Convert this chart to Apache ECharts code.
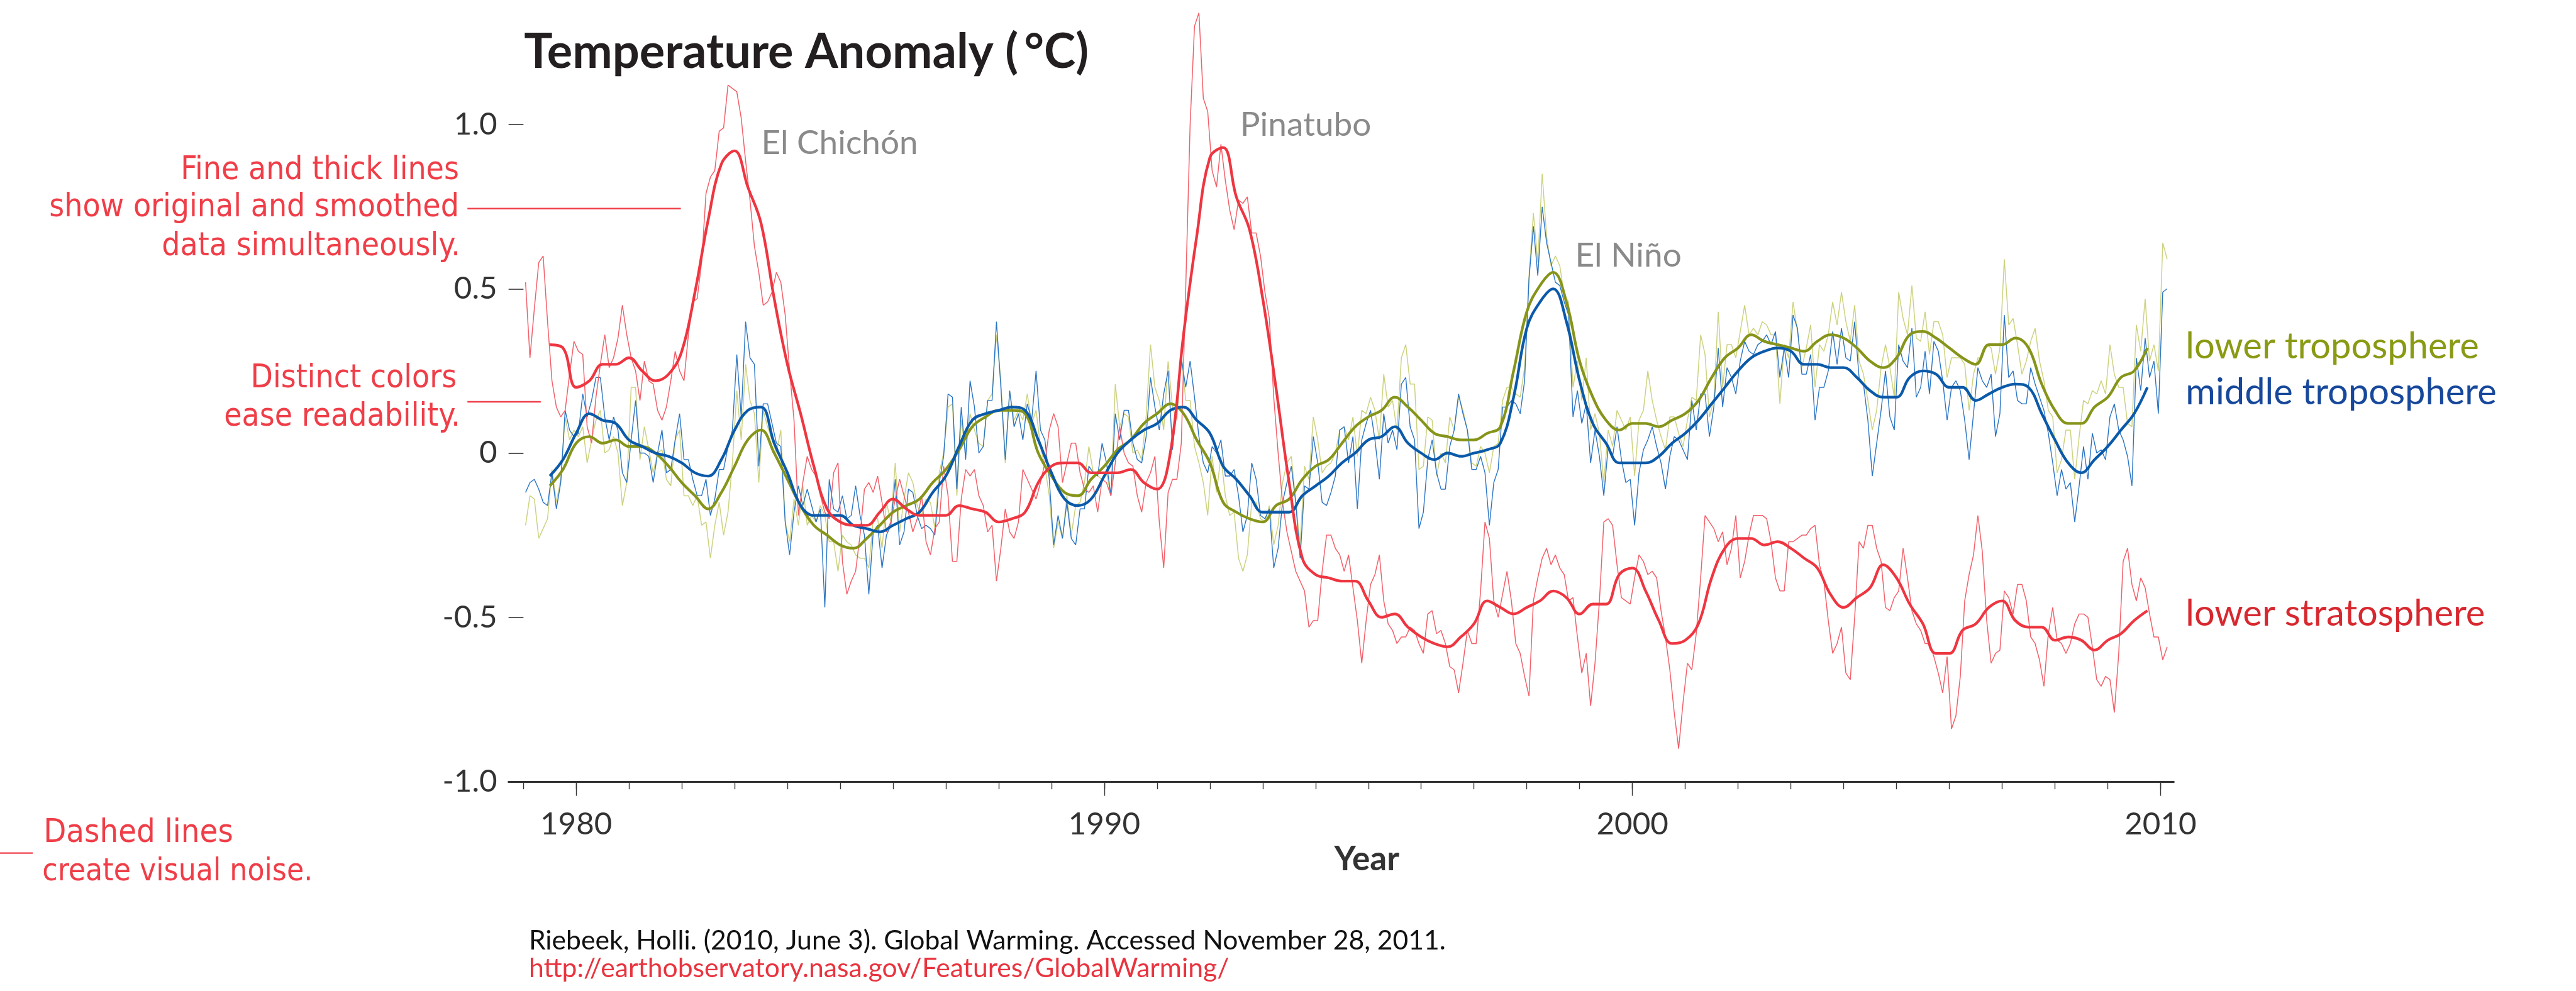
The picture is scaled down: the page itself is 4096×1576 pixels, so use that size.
<!DOCTYPE html>
<html>
<head>
<meta charset="utf-8">
<title>Temperature Anomaly</title>
<script src="https://cdn.jsdelivr.net/npm/echarts@6.0.0/dist/echarts.min.js"></script>
<style>
  html, body { margin: 0; padding: 0; background: #fff; }
  #chart { width: 4096px; height: 1576px; }
</style>
</head>
<body>
<div id="chart"></div>
<script>
// monthly anomalies, Jan 1979 .. Feb 2010 (fine lines)
var fineStartYear = 1979;

var lowerStratosphere = [
  0.52, 0.29, 0.44, 0.58, 0.60, 0.40, 0.22, 0.14, 0.11, 0.13, 0.24, 0.34,   // 1979
  0.31, 0.30, 0.08, 0.03, 0.17, 0.27, 0.36, 0.26, 0.29, 0.35, 0.45, 0.36,   // 1980
  0.29, 0.25, 0.16, 0.28, 0.22, 0.21, 0.13, 0.10, 0.14, 0.22, 0.31, 0.25,   // 1981
  0.22, 0.36, 0.46, 0.47, 0.58, 0.79, 0.84, 0.86, 0.98, 0.99, 1.12, 1.11,   // 1982
  1.10, 1.02, 0.89, 0.77, 0.63, 0.55, 0.45, 0.46, 0.49, 0.55, 0.52, 0.42,   // 1983
  0.25, 0.10, -0.19, -0.09, -0.01, -0.05, -0.07, -0.13, -0.18, -0.20, -0.06, -0.03,
  -0.33, -0.43, -0.39, -0.36, -0.25, -0.11, -0.09, -0.12, -0.07, -0.15, -0.24, -0.21,
  -0.14, -0.08, -0.13, -0.18, -0.24, -0.20, -0.13, -0.27, -0.31, -0.23, -0.21, -0.04,
  -0.13, -0.33, -0.33, -0.14, -0.05, -0.07, -0.05, -0.13, -0.16, -0.24, -0.22, -0.39,
  -0.29, -0.17, -0.24, -0.26, -0.21, -0.05, -0.08, -0.11, -0.14, -0.09, -0.03, 0.07,
  0.12, 0.08, -0.09, -0.03, 0.03, 0.03, -0.06, -0.11, -0.12, -0.10, -0.18, -0.08,
  -0.09, -0.13, -0.03, 0.08, 0.00, -0.03, -0.04, -0.13, -0.18, -0.09, -0.06, -0.01,
  -0.21, -0.35, -0.12, -0.08, -0.08, 0.03, 0.50, 1.00, 1.30, 1.34, 1.08, 1.04,  // 1991
  0.86, 0.81, 0.94, 0.83, 0.74, 0.68, 0.77, 0.76, 0.78, 0.67, 0.67, 0.60,
  0.49, 0.41, 0.17, 0.00, -0.15, -0.24, -0.30, -0.36, -0.39, -0.42, -0.53, -0.51,
  -0.51, -0.36, -0.25, -0.25, -0.29, -0.31, -0.36, -0.31, -0.41, -0.51, -0.64, -0.51,
  -0.40, -0.37, -0.31, -0.45, -0.52, -0.54, -0.58, -0.56, -0.56, -0.53, -0.54, -0.58,
  -0.61, -0.49, -0.48, -0.55, -0.54, -0.58, -0.65, -0.66, -0.73, -0.64, -0.54, -0.58,
  -0.58, -0.42, -0.21, -0.26, -0.45, -0.50, -0.43, -0.36, -0.45, -0.58, -0.61, -0.68,
  -0.74, -0.45, -0.38, -0.32, -0.29, -0.34, -0.31, -0.35, -0.37, -0.45, -0.44, -0.56,
  -0.67, -0.61, -0.77, -0.64, -0.45, -0.21, -0.20, -0.22, -0.34, -0.44, -0.45, -0.46,
  -0.38, -0.31, -0.33, -0.37, -0.36, -0.38, -0.48, -0.56, -0.66, -0.79, -0.90, -0.76,
  -0.64, -0.66, -0.55, -0.38, -0.19, -0.21, -0.23, -0.27, -0.24, -0.34, -0.29, -0.19,
  -0.38, -0.33, -0.25, -0.19, -0.19, -0.19, -0.20, -0.27, -0.38, -0.42, -0.42, -0.27,
  -0.27, -0.26, -0.25, -0.25, -0.23, -0.22, -0.34, -0.39, -0.51, -0.61, -0.58, -0.53,
  -0.67, -0.69, -0.50, -0.27, -0.29, -0.22, -0.22, -0.29, -0.33, -0.47, -0.48, -0.44,
  -0.42, -0.29, -0.38, -0.48, -0.52, -0.54, -0.58, -0.58, -0.62, -0.67, -0.73, -0.62,
  -0.84, -0.80, -0.68, -0.45, -0.37, -0.31, -0.19, -0.30, -0.51, -0.64, -0.61, -0.60,
  -0.42, -0.44, -0.49, -0.40, -0.40, -0.45, -0.56, -0.58, -0.63, -0.71, -0.55, -0.47,
  -0.57, -0.58, -0.61, -0.58, -0.52, -0.49, -0.49, -0.50, -0.59, -0.69, -0.71, -0.68,
  -0.69, -0.79, -0.61, -0.33, -0.29, -0.40, -0.45, -0.38, -0.41, -0.49, -0.56, -0.56,
  -0.63, -0.59                                                                // 2010
];

var middleTroposphere = [
  -0.12, -0.09, -0.08, -0.11, -0.15, -0.16, -0.06, -0.17, -0.09, 0.13, 0.07, 0.05,
  0.06, 0.18, 0.11, 0.16, 0.23, 0.23, 0.11, 0.04, 0.11, 0.07, -0.06, -0.09,
  0.04, 0.16, 0.00, 0.00, -0.01, -0.09, 0.00, 0.07, -0.06, -0.05, 0.04, 0.12,
  -0.02, -0.02, -0.08, -0.13, -0.13, -0.08, -0.19, -0.14, -0.05, -0.05, 0.02, 0.07,
  0.30, 0.11, 0.40, 0.29, 0.27, -0.04, 0.15, 0.15, 0.09, 0.03, 0.02, -0.21,
  -0.31, -0.18, -0.10, -0.16, -0.11, -0.16, -0.21, -0.17, -0.47, -0.08, -0.17, -0.18,
  -0.13, -0.20, -0.19, -0.10, -0.19, -0.25, -0.43, -0.24, -0.22, -0.35, -0.25, -0.22,
  -0.08, -0.28, -0.24, -0.11, -0.12, -0.19, -0.23, -0.22, -0.23, -0.25, -0.09, -0.01,
  0.18, 0.17, -0.11, 0.14, -0.02, 0.22, 0.14, 0.00, 0.02, 0.16, 0.16, 0.40,
  0.20, -0.02, 0.19, 0.08, 0.12, 0.04, 0.15, 0.10, 0.25, 0.07, 0.04, -0.08,
  -0.28, -0.19, -0.26, -0.15, -0.26, -0.28, -0.17, -0.17, -0.04, -0.06, -0.07, 0.03,
  -0.03, -0.13, 0.12, 0.04, 0.13, 0.13, 0.03, -0.02, -0.03, 0.05, 0.23, 0.14,
  0.07, 0.18, 0.25, 0.01, 0.16, 0.29, 0.20, 0.28, 0.17, 0.05, -0.03, -0.06,
  0.02, 0.00, 0.04, -0.07, -0.07, -0.05, -0.13, -0.24, -0.19, -0.03, -0.08, -0.19,
  -0.20, -0.17, -0.35, -0.29, -0.15, -0.09, -0.04, -0.15, -0.32, -0.10, -0.11, 0.05,
  -0.03, -0.15, -0.16, -0.12, -0.07, 0.07, 0.08, -0.03, 0.05, -0.17, 0.04, 0.09,
  0.13, 0.04, -0.08, 0.12, 0.03, 0.07, 0.01, 0.21, 0.23, 0.08, 0.04, -0.23,
  -0.18, -0.02, 0.04, -0.06, -0.11, -0.11, 0.02, 0.07, 0.18, 0.12, 0.07, -0.05,
  -0.05, -0.01, -0.06, -0.22, -0.09, -0.05, 0.14, 0.14, 0.16, 0.15, 0.12, 0.22,
  0.53, 0.69, 0.54, 0.75, 0.64, 0.58, 0.52, 0.51, 0.46, 0.42, 0.11, 0.19,
  0.09, 0.15, -0.03, 0.07, -0.01, -0.13, 0.02, -0.01, 0.08, -0.02, -0.09, -0.08,
  -0.22, -0.06, 0.01, 0.04, 0.08, 0.02, -0.03, -0.11, -0.01, 0.05, 0.04, 0.01,
  -0.02, 0.16, 0.07, 0.18, 0.18, 0.05, 0.14, 0.32, 0.14, 0.26, 0.23, 0.18,
  0.28, 0.34, 0.31, 0.30, 0.33, 0.34, 0.36, 0.33, 0.37, 0.23, 0.32, 0.23,
  0.42, 0.38, 0.24, 0.24, 0.30, 0.10, 0.20, 0.20, 0.25, 0.37, 0.27, 0.38,
  0.29, 0.28, 0.40, 0.23, 0.21, 0.10, -0.07, 0.03, 0.13, 0.25, 0.11, 0.07,
  0.33, 0.28, 0.26, 0.38, 0.17, 0.20, 0.31, 0.18, 0.34, 0.31, 0.22, 0.10,
  0.20, 0.22, 0.19, 0.10, -0.02, 0.12, 0.26, 0.22, 0.20, 0.24, 0.05, 0.12,
  0.42, 0.23, 0.25, 0.16, 0.15, 0.15, 0.26, 0.21, 0.17, 0.13, 0.06, -0.03,
  -0.13, -0.05, -0.11, -0.09, -0.21, -0.10, 0.02, -0.08, 0.06, 0.00, 0.01, -0.02,
  0.11, 0.15, 0.07, 0.04, -0.01, -0.10, 0.29, 0.19, 0.35, 0.23, 0.28, 0.12,
  0.49, 0.50
];

var lowerTroposphere = [
  -0.22, -0.13, -0.14, -0.26, -0.23, -0.20, -0.05, -0.15, -0.08, 0.11, 0.04, 0.07,
  0.05, 0.08, -0.03, 0.04, 0.10, 0.13, 0.00, 0.01, 0.05, 0.00, -0.16, -0.09,
  0.20, 0.20, -0.02, 0.08, 0.01, -0.06, 0.00, 0.01, -0.08, -0.10, 0.04, 0.07,
  -0.13, -0.13, -0.16, -0.13, -0.22, -0.21, -0.32, -0.22, -0.15, -0.25, -0.18, -0.03,
  0.19, 0.04, 0.27, 0.16, 0.12, -0.09, 0.13, 0.08, 0.04, 0.00, 0.07, -0.21,
  -0.27, -0.14, -0.22, -0.10, -0.22, -0.19, -0.21, -0.16, -0.19, -0.27, -0.27, -0.36,
  -0.25, -0.27, -0.28, -0.31, -0.32, -0.32, -0.35, -0.20, -0.20, -0.29, -0.15, -0.21,
  -0.03, -0.24, -0.14, -0.06, -0.09, -0.16, -0.19, -0.14, -0.15, -0.23, -0.06, 0.00,
  0.14, 0.15, -0.13, 0.10, 0.00, 0.12, 0.07, 0.03, 0.02, 0.16, 0.18, 0.36,
  0.22, -0.03, 0.19, 0.10, 0.13, 0.10, 0.18, 0.09, 0.13, 0.02, -0.04, -0.13,
  -0.29, -0.21, -0.26, -0.13, -0.25, -0.16, -0.15, -0.09, 0.02, -0.06, -0.07, -0.08,
  -0.06, -0.13, 0.21, 0.08, 0.12, 0.11, 0.00, 0.01, -0.02, 0.11, 0.33, 0.20,
  0.16, 0.07, 0.28, 0.14, 0.10, 0.30, 0.16, 0.16, 0.02, -0.03, -0.09, -0.19,
  -0.01, -0.12, -0.01, -0.13, -0.19, -0.18, -0.32, -0.36, -0.31, -0.15, -0.15, -0.20,
  -0.21, -0.16, -0.28, -0.22, -0.09, -0.03, -0.01, -0.15, -0.28, -0.04, -0.08, 0.11,
  0.04, -0.06, -0.04, -0.03, 0.00, 0.07, 0.08, 0.04, 0.11, -0.01, 0.13, 0.12,
  0.17, 0.13, 0.04, 0.24, 0.14, 0.16, 0.07, 0.29, 0.33, 0.21, 0.21, -0.05,
  -0.04, 0.11, 0.10, -0.07, 0.00, -0.03, 0.11, 0.07, 0.17, 0.13, 0.07, -0.03,
  -0.04, 0.02, 0.00, -0.06, 0.02, 0.03, 0.16, 0.20, 0.20, 0.18, 0.17, 0.26,
  0.54, 0.73, 0.58, 0.85, 0.66, 0.57, 0.60, 0.57, 0.48, 0.46, 0.20, 0.28,
  0.16, 0.29, 0.07, 0.12, 0.06, -0.09, 0.07, 0.02, 0.13, 0.10, 0.07, 0.11,
  -0.07, 0.10, 0.13, 0.25, 0.16, 0.10, 0.05, 0.01, 0.11, 0.11, 0.06, 0.02,
  0.10, 0.17, 0.16, 0.36, 0.30, 0.11, 0.16, 0.43, 0.20, 0.33, 0.33, 0.29,
  0.37, 0.45, 0.36, 0.38, 0.36, 0.40, 0.39, 0.36, 0.36, 0.15, 0.33, 0.29,
  0.46, 0.37, 0.26, 0.32, 0.39, 0.20, 0.33, 0.31, 0.36, 0.46, 0.39, 0.49,
  0.40, 0.34, 0.45, 0.28, 0.24, 0.16, 0.07, 0.13, 0.26, 0.33, 0.26, 0.17,
  0.49, 0.41, 0.36, 0.51, 0.35, 0.34, 0.43, 0.30, 0.40, 0.40, 0.36, 0.23,
  0.29, 0.29, 0.29, 0.27, 0.13, 0.24, 0.29, 0.29, 0.33, 0.32, 0.24, 0.32,
  0.59, 0.39, 0.41, 0.33, 0.24, 0.28, 0.34, 0.38, 0.28, 0.22, 0.13, 0.11,
  -0.06, -0.02, 0.07, 0.07, -0.08, 0.05, 0.16, 0.15, 0.19, 0.18, 0.22, 0.18,
  0.33, 0.24, 0.20, 0.20, 0.09, 0.08, 0.39, 0.31, 0.47, 0.28, 0.33, 0.25,
  0.64, 0.59
];

// smoothed (thick) lines, quarterly from mid 1979
var smoothStartYear = 1979.5;
var smoothStep = 0.25;

var lowerStratosphereSmooth = [
  0.33, 0.32,
  0.20, 0.22, 0.27, 0.27,   0.29, 0.25, 0.22, 0.24,   0.31, 0.49, 0.71, 0.88,
  0.92, 0.81, 0.70, 0.47,   0.27, 0.12, -0.04, -0.17, -0.21, -0.22, -0.22, -0.18,
  -0.14, -0.17, -0.19, -0.19, -0.19, -0.16, -0.17, -0.18, -0.21, -0.20, -0.18, -0.09,
  -0.04, -0.03, -0.03, -0.06, -0.06, -0.06, -0.05, -0.09, -0.11, 0.00, 0.36, 0.66,
  0.90, 0.93, 0.78, 0.68,   0.47, 0.20, -0.09, -0.32, -0.37, -0.38, -0.39, -0.39,
  -0.45, -0.50, -0.49, -0.53, -0.56, -0.58, -0.59, -0.56, -0.52, -0.45, -0.47, -0.49,
  -0.47, -0.45, -0.42, -0.44, -0.49, -0.46, -0.46, -0.37, -0.35, -0.42, -0.51, -0.58,
  -0.57, -0.52, -0.38, -0.29, -0.26, -0.26, -0.28, -0.27, -0.29, -0.32, -0.35, -0.43,
  -0.47, -0.44, -0.41, -0.34, -0.38, -0.46, -0.52, -0.61, -0.61, -0.54, -0.52, -0.47,
  -0.45, -0.51, -0.53, -0.53, -0.57, -0.56, -0.57, -0.60, -0.57, -0.55, -0.51, -0.48
];

var middleTroposphereSmooth = [
  -0.07, -0.02,
  0.06, 0.12, 0.10, 0.09,   0.04, 0.02, 0.00, -0.01,   -0.03, -0.06, -0.07, -0.02,
  0.07, 0.13, 0.14, 0.03,   -0.06, -0.16, -0.19, -0.19, -0.19, -0.22, -0.23, -0.24,
  -0.22, -0.20, -0.18, -0.12, -0.07, 0.02, 0.10, 0.12,   0.13, 0.14, 0.13, 0.04,
  -0.06, -0.14, -0.16, -0.14, -0.07, 0.00, 0.04, 0.07,   0.09, 0.13, 0.14, 0.10,
  0.06, -0.04, -0.08, -0.13, -0.18, -0.18, -0.18, -0.13, -0.10, -0.07, -0.03, 0.00,
  0.04, 0.05, 0.08, 0.03,   0.00, -0.02, 0.00, -0.01,   0.00, 0.01, 0.03, 0.17,
  0.38, 0.46, 0.50, 0.40,   0.22, 0.09, 0.03, -0.03,   -0.03, -0.03, -0.01, 0.03,
  0.06, 0.10, 0.15, 0.20,   0.25, 0.29, 0.31, 0.32,   0.31, 0.27, 0.27, 0.26,
  0.26, 0.23, 0.19, 0.17,   0.17, 0.23, 0.25, 0.24,   0.20, 0.20, 0.16, 0.18,
  0.20, 0.21, 0.20, 0.12,   0.04, -0.03, -0.06, -0.02, 0.02, 0.07, 0.12, 0.20
];

var lowerTroposphereSmooth = [
  -0.10, -0.05,
  0.03, 0.05, 0.03, 0.04,   0.02, 0.02, 0.00, -0.04,   -0.09, -0.13, -0.17, -0.12,
  -0.04, 0.04, 0.07, 0.00,  -0.08, -0.16, -0.22, -0.25, -0.28, -0.29, -0.26, -0.22,
  -0.18, -0.16, -0.14, -0.09, -0.05, 0.01, 0.08, 0.11,  0.13, 0.13, 0.12, 0.00,
  -0.07, -0.12, -0.13, -0.08, -0.04, 0.01, 0.04, 0.09,  0.12, 0.15, 0.12, 0.04,
  -0.03, -0.15, -0.18, -0.20, -0.21, -0.16, -0.14, -0.08, -0.04, -0.02, 0.03, 0.08,
  0.11, 0.13, 0.17, 0.14,   0.10, 0.06, 0.05, 0.04,   0.04, 0.06, 0.08, 0.25,
  0.43, 0.51, 0.55, 0.46,   0.28, 0.17, 0.10, 0.07,   0.09, 0.09, 0.08, 0.10,
  0.12, 0.16, 0.23, 0.29,   0.32, 0.36, 0.34, 0.33,   0.32, 0.31, 0.34, 0.36,
  0.35, 0.32, 0.28, 0.26,   0.29, 0.36, 0.37, 0.35,   0.32, 0.29, 0.27, 0.33,
  0.33, 0.35, 0.32, 0.21,   0.13, 0.09, 0.09, 0.14,   0.17, 0.23, 0.25, 0.32
];

var decadeTicks = [1980, 1990, 2000, 2010];
var yearTicks = [1979, 1980, 1981, 1982, 1983, 1984, 1985, 1986, 1987, 1988, 1989,
  1990, 1991, 1992, 1993, 1994, 1995, 1996, 1997, 1998, 1999, 2000, 2001, 2002,
  2003, 2004, 2005, 2006, 2007, 2008, 2009, 2010];
var valueTicks = [-1, -0.5, 0, 0.5, 1];

// colours
var colRedFine = '#f2606a', colRed = '#ee3641';
var colBlueFine = '#2a74c4', colBlue = '#0b5aa9';
var colGreenFine = '#cdd27f', colGreen = '#86941a';
var noteRed = '#ef3e48';

// everything below was measured on a 4319 wide picture
var S = 0.948;
var FONT = 'Lato, "Open Sans", sans-serif';
var HAND = '"Liberation Sans Narrow", "DejaVu Sans Condensed", sans-serif';

function monthly(values) {
  return values.map(function (v, i) { return [fineStartYear + (i + 0.5) / 12, v]; });
}
function quarterly(values) {
  return values.map(function (v, i) { return [smoothStartYear + i * smoothStep, v]; });
}

// text placed by its baseline (full size coords)
function label(x, baseline, str, size, color, opts) {
  opts = opts || {};
  var fs = size * S;
  var k = opts.font === HAND ? 0.35 : 0.38;
  return {
    type: 'text',
    x: x * S,
    y: baseline * S - k * fs,
    style: {
      text: str,
      fill: color,
      font: (opts.weight || 'normal') + ' ' + fs + 'px ' + (opts.font || FONT),
      textAlign: opts.align || 'left',
      textVerticalAlign: 'middle',
      verticalAlign: 'middle'
    }
  };
}
function rule(x1, x2, y) {
  return {
    type: 'line',
    shape: { x1: x1 * S, y1: y * S, x2: x2 * S, y2: y * S },
    style: { stroke: noteRed, lineWidth: 2.4 }
  };
}

var chart = echarts.init(document.getElementById('chart'));

var option = {
  animation: false,
  backgroundColor: '#ffffff',
  grid: {
    left: 853 * S,
    right: 4096 - 3646 * S,
    top: 15.3,
    bottom: 1576 - 1311 * S
  },
  xAxis: [{
    type: 'value',
    min: 1978.72,
    max: 2010.25,
    position: 'bottom',
    axisLine: { show: true, onZero: false, lineStyle: { color: '#333333', width: 3 } },
    axisTick: {
      show: true, customValues: decadeTicks, length: 24 * S,
      lineStyle: { color: '#333333', width: 1.4 }
    },
    axisLabel: {
      show: true, customValues: decadeTicks, margin: 72 * S,
      verticalAlign: 'middle',
      fontFamily: FONT, fontSize: 52 * S, color: '#333333',
      formatter: function (v) { return String(v); }
    },
    splitLine: { show: false },
    name: 'Year',
    nameLocation: 'middle',
    nameGap: 122 * S,
    nameTextStyle: {
      fontFamily: FONT, fontWeight: 'bold', fontSize: 56 * S, color: '#333333',
      verticalAlign: 'middle', padding: [0, 0, 0, 86 * S]
    }
  }, {
    type: 'value',
    min: 1978.72,
    max: 2010.25,
    position: 'bottom',
    axisLine: { show: false, onZero: false },
    axisTick: {
      show: true, customValues: yearTicks, length: 13 * S,
      lineStyle: { color: '#333333', width: 1.4 }
    },
    axisLabel: { show: false },
    splitLine: { show: false }
  }],
  yAxis: {
    type: 'value',
    min: -1,
    max: 1.35,
    axisLine: { show: false },
    axisTick: {
      show: true, inside: true, customValues: valueTicks, length: 25 * S,
      lineStyle: { color: '#333333', width: 1.6 }
    },
    axisLabel: {
      show: true, customValues: valueTicks, margin: 19 * S,
      fontFamily: FONT, fontSize: 52 * S, color: '#333333',
      formatter: function (v) { return v === 0 ? '0' : v.toFixed(1); }
    },
    splitLine: { show: false }
  },
  series: [
    { name: 'lower troposphere', type: 'line', data: monthly(lowerTroposphere), showSymbol: false,
      lineStyle: { color: colGreenFine, width: 1.5 }, z: 2 },
    { name: 'middle troposphere', type: 'line', data: monthly(middleTroposphere), showSymbol: false,
      lineStyle: { color: colBlueFine, width: 1.4 }, z: 2 },
    { name: 'lower stratosphere', type: 'line', data: monthly(lowerStratosphere), showSymbol: false,
      lineStyle: { color: colRedFine, width: 1.5 }, z: 2 },
    { name: 'lower troposphere (smoothed)', type: 'line', data: quarterly(lowerTroposphereSmooth),
      showSymbol: false, smooth: 0.4, lineStyle: { color: colGreen, width: 4.3 }, z: 3 },
    { name: 'middle troposphere (smoothed)', type: 'line', data: quarterly(middleTroposphereSmooth),
      showSymbol: false, smooth: 0.4, lineStyle: { color: colBlue, width: 4.3 }, z: 3 },
    { name: 'lower stratosphere (smoothed)', type: 'line', data: quarterly(lowerStratosphereSmooth),
      showSymbol: false, smooth: 0.4, lineStyle: { color: colRed, width: 4.3 }, z: 3 }
  ],
  graphic: [
    label(879, 119, 'Temperature Anomaly (\u2009°C)', 80, '#231f20', { weight: 'bold' }),

    label(1277, 262, 'El Chichón', 56, '#8a8a8a'),
    label(2080, 231, 'Pinatubo', 56, '#8a8a8a'),
    label(2642, 450, 'El Niño', 56, '#8a8a8a'),

    label(3666, 605, 'lower troposphere', 61, '#8a9a14'),
    label(3666, 682, 'middle troposphere', 61, '#17489b'),
    label(3666, 1053, 'lower stratosphere', 61, '#d7282f'),

    label(770, 305, 'Fine and thick lines', 54, noteRed, { font: HAND, align: 'right' }),
    label(770, 368, 'show original and smoothed', 54, noteRed, { font: HAND, align: 'right' }),
    label(772, 433, 'data simultaneously.', 54, noteRed, { font: HAND, align: 'right' }),
    rule(784, 1142, 350),

    label(766, 655, 'Distinct colors', 54, noteRed, { font: HAND, align: 'right' }),
    label(772, 719, 'ease readability.', 54, noteRed, { font: HAND, align: 'right' }),
    rule(784, 907, 674),

    label(73, 1417, 'Dashed lines', 55, noteRed, { font: HAND }),
    label(71, 1482, 'create visual noise.', 52, noteRed, { font: HAND }),
    rule(0, 55, 1431),

    label(887, 1595, 'Riebeek, Holli. (2010, June 3). Global Warming. Accessed November 28, 2011.', 45, '#111111'),
    label(887, 1642, 'http://earthobservatory.nasa.gov/Features/GlobalWarming/', 45, '#e8343f')
  ]
};

chart.setOption(option);
</script>
</body>
</html>
